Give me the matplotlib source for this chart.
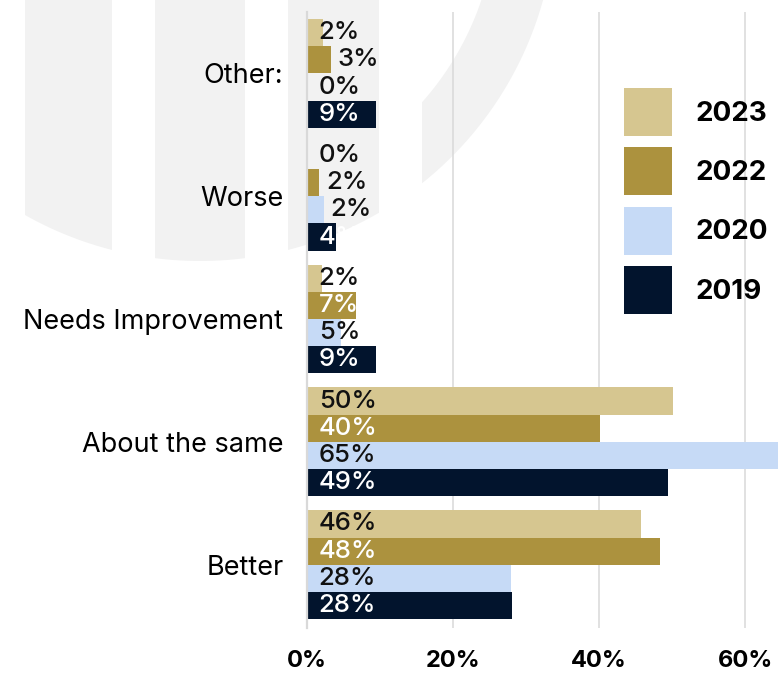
import numpy as np
import matplotlib
matplotlib.use("Agg")
import matplotlib.pyplot as plt
from matplotlib.patches import Polygon

plt.rcParams["font.family"] = ["Inter", "DejaVu Sans"]

# Survey answers, bottom to top
categories = ["Better", "About the same", "Needs Improvement", "Worse", "Other:"]
years = ["2023", "2022", "2020", "2019"]
share_2023 = [45.8, 50.1, 2.1, 0.0, 2.2]
share_2022 = [48.4, 40.1, 6.7, 1.7, 3.3]
share_2020 = [27.9, 65.0, 4.6, 2.3, 0.0]
share_2019 = [28.1, 49.4, 9.4, 4.0, 9.4]
series = [share_2023, share_2022, share_2020, share_2019]

colors = ["#d6c690", "#ac923e", "#c6daf6", "#02142d"]
label_colors = ["#111111", "white", "#111111", "white"]
x_ticks = [0, 20, 40, 60]

W, H = 778, 675
fig = plt.figure(figsize=(W / 100, H / 100), dpi=100)

# faint logo watermark in the background (pixel coordinates)
bg = fig.add_axes([0, 0, 1, 1], zorder=0)
bg.set_xlim(0, W)
bg.set_ylim(H, 0)
bg.axis("off")
cx, cy, r_out, r_in = 200.0, -95.0, 356.0, 297.0
wm = "#f2f2f2"
for x0, x1 in [(25, 112), (155, 245), (288, 379)]:
    xs = np.linspace(x0, x1, 60)
    ys = cy + np.sqrt(r_out ** 2 - (xs - cx) ** 2)
    pts = [(x0, -5)] + list(zip(xs, ys)) + [(x1, -5)]
    bg.add_patch(Polygon(pts, closed=True, facecolor=wm, edgecolor="none"))
# ring segment to the right
xo = np.linspace(422, cx + np.sqrt(r_out ** 2 - (0 - cy) ** 2), 80)
yo = cy + np.sqrt(r_out ** 2 - (xo - cx) ** 2)
xi = np.linspace(cx + np.sqrt(r_in ** 2 - (0 - cy) ** 2), 422, 80)
yi = cy + np.sqrt(r_in ** 2 - (xi - cx) ** 2)
ring = list(zip(xo, yo)) + [(xo[-1], -5), (xi[0], -5)] + list(zip(xi, yi))
bg.add_patch(Polygon(ring, closed=True, facecolor=wm, edgecolor="none"))

ax = fig.add_axes([307 / W, 1 - 628 / H, 1 - 307 / W, 616 / H], zorder=1)
ax.patch.set_alpha(0)

h = 0.2215
y = np.arange(len(categories))
offsets = [1.5 * h, 0.5 * h, -0.5 * h, -1.5 * h]
handles = []
for k, vals in enumerate(series):
    bars = ax.barh(y + offsets[k], vals, height=h, color=colors[k],
                   label=years[k], zorder=2)
    handles.append(bars)
    for yy, v in zip(y + offsets[k], vals):
        tc = label_colors[k]
        tx = 1.6
        if k in (1, 2) and 0 < v < 4:
            tx = max(1.6, v + 0.9)
            tc = "#111111"
        if v < 1.5:
            tc = "#111111"
        ax.text(tx, yy, f"{round(v):.0f}%", ha="left", va="center",
                fontsize=18.5, fontweight="medium", color=tc, zorder=3)

ax.set_xlim(0, 64.5)
ax.set_ylim(-0.515, 4.5)
ax.set_xticks(x_ticks, [f"{t}%" for t in x_ticks])
ax.set_yticks(y, categories)
ax.tick_params(axis="x", length=0, pad=16, labelsize=17)
ax.tick_params(axis="y", length=0, pad=17, labelsize=19.5)
for lab in ax.get_xticklabels():
    lab.set_fontweight("bold")
ax.xaxis.grid(True, color="#d9d9d9", linewidth=1.1, zorder=0)
ax.set_axisbelow(True)
for side in ["top", "right", "bottom"]:
    ax.spines[side].set_visible(False)
ax.spines["left"].set_color("#d9d9d9")
ax.spines["left"].set_linewidth(1.6)

# big square swatches: patch height = size * (hh - 0.35 * (hh - 0.7))
fig.legend(handles=handles, labels=years, loc="upper left",
           bbox_to_anchor=(624 / W, 1 - 88 / H), frameon=False,
           prop={"size": 20, "weight": "bold"}, handlelength=1.73,
           handleheight=2.28, labelspacing=0.41, handletextpad=0.83,
           borderpad=0, borderaxespad=0)

fig.savefig("out.png", dpi=100)
